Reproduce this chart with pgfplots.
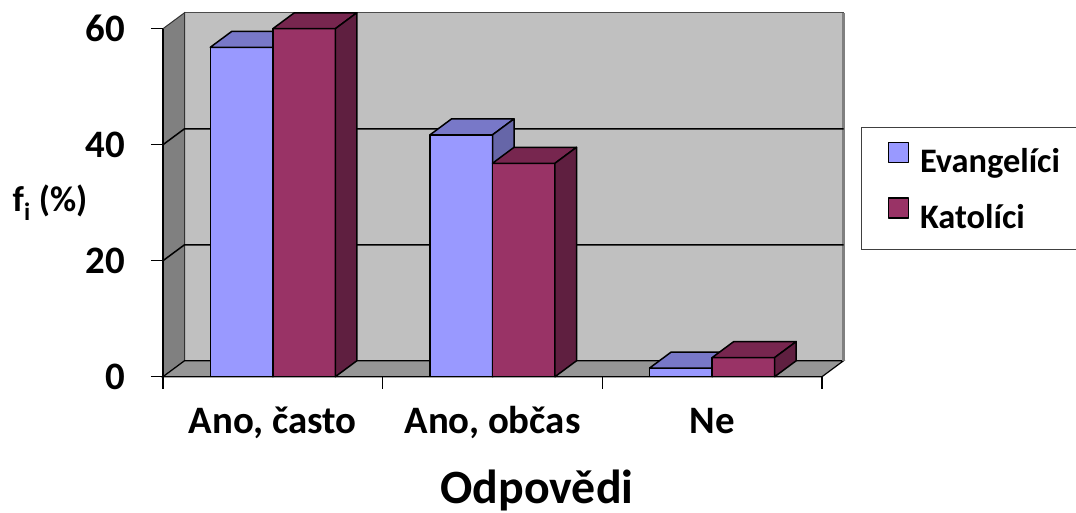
\documentclass[border=0pt]{standalone}
\usepackage{fontspec}
\setmainfont{Carlito}
\usepackage{pgfplots}
\pgfplotsset{compat=1.18}
\definecolor{evf}{HTML}{9999FF}
\definecolor{evt}{HTML}{7878C8}
\definecolor{evs}{HTML}{6666A8}
\definecolor{katf}{HTML}{993366}
\definecolor{katt}{HTML}{77264F}
\definecolor{kats}{HTML}{5F1F40}
\definecolor{wallb}{HTML}{C0C0C0}
\definecolor{walls}{HTML}{808080}
\definecolor{wallf}{HTML}{969696}
\begin{document}
\begin{tikzpicture}
\path[use as bounding box] (-163bp,-136.3bp) rectangle (913bp,376.7bp);
\begin{axis}[
  scale only axis, width=659bp, height=348bp,
  xmin=0, xmax=3, ymin=0, ymax=60,
  clip=false, axis on top,
  axis x line*=bottom, axis y line*=left,
  axis line style={line width=1.5bp, black},
  tick style={line width=1.5bp, black},
  tick align=outside, major tick length=12bp,
  xtick={0,1,2,3},
  x tick label as interval,
  xticklabels={{Ano, často},{Ano, občas},{Ne}},
  ytick={0,20,40,60},
  /pgf/number format/assume math mode=true,
  tick label style={font=\fontsize{39}{41}\selectfont\bfseries},
  yticklabel style={anchor=east, inner sep=0pt, xshift=-26bp},
  xticklabel style={anchor=base, inner sep=0pt, yshift=-45bp},
  every axis x label/.style={at={(axis description cs:0.5675,0)}, anchor=base, yshift=-126.3bp, font=\fontsize{48}{50}\selectfont\bfseries},
  every axis y label/.style={at={(axis description cs:0,0.5)}, anchor=center, xshift=-113bp, font=\fontsize{36}{38}\selectfont\bfseries},
  xlabel={Odpovědi},
  ylabel={f\textsubscript{i} (\%)},
  legend style={at={(1.0592,0.7175)}, anchor=north west, draw=black!75, line width=1bp,
    inner xsep=26bp, inner ysep=14bp, font=\fontsize{34.5}{37}\selectfont\bfseries,
    nodes={inner sep=0pt, text height=27bp, text depth=7bp}, column sep=11bp, row sep=18bp},
  legend cell align=left,
  legend image code/.code={\draw[#1, draw=black, line width=1.5bp] (0bp,0bp) rectangle (20bp,20bp);},
]
% walls
\addplot[fill=wallb, draw=black!70, line width=1bp, forget plot] coordinates {(0.098,2.75) (3.098,2.75) (3.098,62.75) (0.098,62.75)} -- cycle;
\addplot[fill=walls, draw=black!80, line width=1bp, forget plot] coordinates {(0,0) (0.098,2.75) (0.098,62.75) (0,60)} -- cycle;
\addplot[fill=wallf, draw=black, line width=1.2bp, forget plot] coordinates {(0,0) (3,0) (3.098,2.75) (0.098,2.75)} -- cycle;
\addplot[draw=walls, line width=3bp, forget plot] coordinates {(3.098,2.75) (3.098,62.75)};
% gridlines
\addplot[black, line width=1.5bp, forget plot] coordinates {(0,20) (0.098,22.75) (3.098,22.75)};
\addplot[black, line width=1.5bp, forget plot] coordinates {(0,40) (0.098,42.75) (3.098,42.75)};
% Evangelici: 56.8, 41.7, 1.5
\addplot[fill=evf, draw=black, line width=1.5bp, line join=round] coordinates {(0.2155,0) (0.5,0) (0.5,56.8) (0.2155,56.8)} -- cycle;
\addplot[fill=evt, draw=black, line width=1.5bp, line join=round, forget plot] coordinates {(0.2155,56.8) (0.5,56.8) (0.598,59.55) (0.3135,59.55)} -- cycle;
\addplot[fill=evs, draw=black, line width=1.5bp, line join=round, forget plot] coordinates {(0.5,0) (0.5,56.8) (0.598,59.55) (0.598,2.75)} -- cycle;
\addplot[fill=evf, draw=black, line width=1.5bp, line join=round, forget plot] coordinates {(1.2155,0) (1.5,0) (1.5,41.7) (1.2155,41.7)} -- cycle;
\addplot[fill=evt, draw=black, line width=1.5bp, line join=round, forget plot] coordinates {(1.2155,41.7) (1.5,41.7) (1.598,44.45) (1.3135,44.45)} -- cycle;
\addplot[fill=evs, draw=black, line width=1.5bp, line join=round, forget plot] coordinates {(1.5,0) (1.5,41.7) (1.598,44.45) (1.598,2.75)} -- cycle;
\addplot[fill=evf, draw=black, line width=1.5bp, line join=round, forget plot] coordinates {(2.2155,0) (2.5,0) (2.5,1.5) (2.2155,1.5)} -- cycle;
\addplot[fill=evt, draw=black, line width=1.5bp, line join=round, forget plot] coordinates {(2.2155,1.5) (2.5,1.5) (2.598,4.25) (2.3135,4.25)} -- cycle;
\addplot[fill=evs, draw=black, line width=1.5bp, line join=round, forget plot] coordinates {(2.5,0) (2.5,1.5) (2.598,4.25) (2.598,2.75)} -- cycle;
% Katolici: 60.0, 36.8, 3.3
\addplot[fill=katf, draw=black, line width=1.5bp, line join=round] coordinates {(0.5,0) (0.7845,0) (0.7845,60) (0.5,60)} -- cycle;
\addplot[fill=katt, draw=black, line width=1.5bp, line join=round, forget plot] coordinates {(0.5,60) (0.7845,60) (0.8825,62.75) (0.598,62.75)} -- cycle;
\addplot[fill=kats, draw=black, line width=1.5bp, line join=round, forget plot] coordinates {(0.7845,0) (0.7845,60) (0.8825,62.75) (0.8825,2.75)} -- cycle;
\addplot[fill=katf, draw=black, line width=1.5bp, line join=round, forget plot] coordinates {(1.5,0) (1.7845,0) (1.7845,36.8) (1.5,36.8)} -- cycle;
\addplot[fill=katt, draw=black, line width=1.5bp, line join=round, forget plot] coordinates {(1.5,36.8) (1.7845,36.8) (1.8825,39.55) (1.598,39.55)} -- cycle;
\addplot[fill=kats, draw=black, line width=1.5bp, line join=round, forget plot] coordinates {(1.7845,0) (1.7845,36.8) (1.8825,39.55) (1.8825,2.75)} -- cycle;
\addplot[fill=katf, draw=black, line width=1.5bp, line join=round, forget plot] coordinates {(2.5,0) (2.7845,0) (2.7845,3.3) (2.5,3.3)} -- cycle;
\addplot[fill=katt, draw=black, line width=1.5bp, line join=round, forget plot] coordinates {(2.5,3.3) (2.7845,3.3) (2.8825,6.05) (2.598,6.05)} -- cycle;
\addplot[fill=kats, draw=black, line width=1.5bp, line join=round, forget plot] coordinates {(2.7845,0) (2.7845,3.3) (2.8825,6.05) (2.8825,2.75)} -- cycle;
\legend{\makebox[240bp][l]{Evangelíci}, Katolíci}
\end{axis}
\end{tikzpicture}
\end{document}
